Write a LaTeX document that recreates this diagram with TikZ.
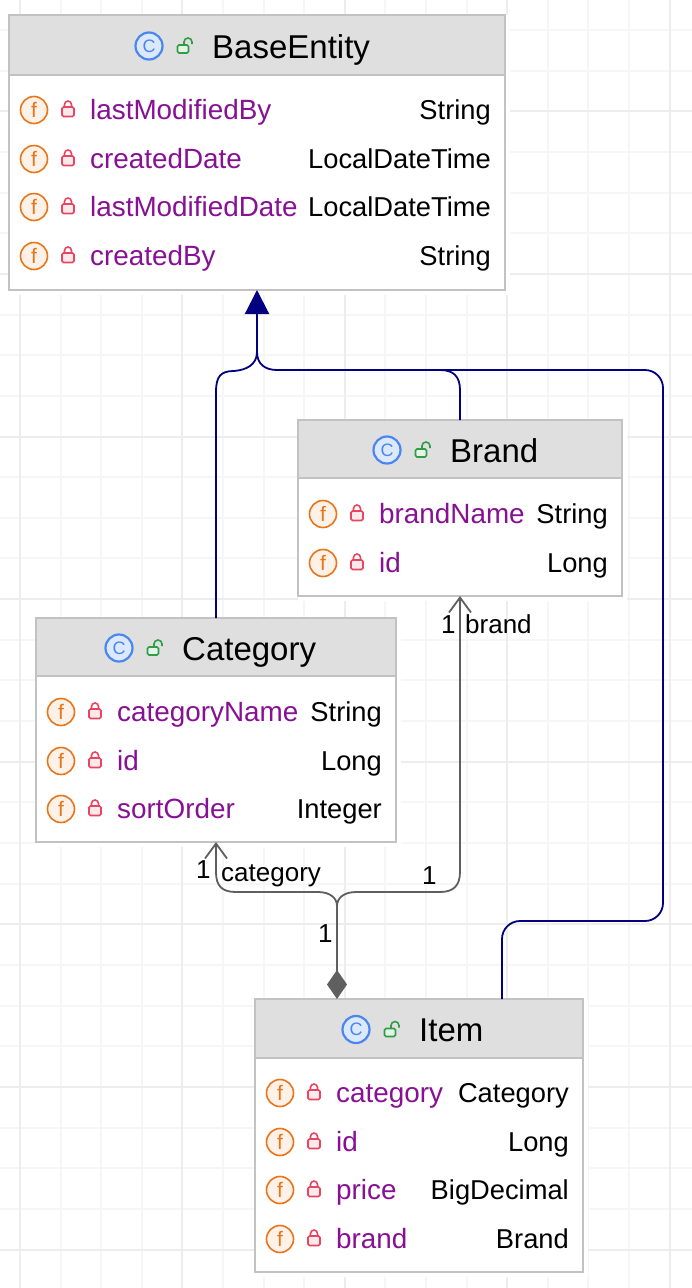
\documentclass[tikz,border=0pt]{standalone}
\usepackage{fontspec}
\setmainfont{Liberation Sans}
\usetikzlibrary{arrows.meta}
\definecolor{gridminor}{HTML}{F6F6F6}
\definecolor{gridmajor}{HTML}{EDEDED}
\definecolor{headgray}{HTML}{DFDFDF}
\definecolor{edgegray}{HTML}{C2C2C2}
\definecolor{fieldpurple}{HTML}{871094}
\definecolor{iconorange}{HTML}{E8751A}
\definecolor{iconpeach}{HTML}{FDF1E8}
\definecolor{lockred}{HTML}{E8455F}
\definecolor{lockgreen}{HTML}{2E9E44}
\definecolor{iconblue}{HTML}{4A86F0}
\definecolor{iconsky}{HTML}{DCE8FC}
\definecolor{linenavy}{HTML}{000080}
\definecolor{linegray}{HTML}{5F5F5F}
\tikzset{
  classbody/.style={draw=edgegray,line width=1.6pt,fill=white,anchor=north west,inner sep=0pt,outer sep=0pt},
  classhead/.style={classbody,fill=headgray},
  classtitle/.style={anchor=base west,inner sep=0pt,font=\fontsize{33}{33}\selectfont},
  classicon/.style={circle,draw=iconblue,fill=iconsky,line width=2.2pt,minimum size=27pt,inner sep=0pt,text=iconblue,font=\fontsize{18}{18}\selectfont},
  fieldicon/.style={circle,draw=iconorange,fill=iconpeach,line width=1.6pt,minimum size=27pt,inner sep=0pt,text=iconorange,font=\fontsize{21}{21}\selectfont},
  fieldname/.style={anchor=base west,inner sep=0pt,text=fieldpurple,font=\fontsize{27.85}{27.85}\selectfont},
  fieldtype/.style={anchor=base east,inner sep=0pt,font=\fontsize{27.3}{27.3}\selectfont},
  edgelabel/.style={anchor=base west,inner sep=0pt,font=\fontsize{26}{26}\selectfont},
  extends/.style={draw=linenavy,line width=1.8pt},
  uses/.style={draw=linegray,line width=1.8pt},
  pics/lockshut/.style={code={
    \draw[lockred,line width=1.6pt,fill=lockred!12,rounded corners=1.5pt] (-6,-3) rectangle (6,6.5);
    \draw[lockred,line width=1.6pt] (-3.5,-3) -- (-3.5,-5.5) arc (180:360:3.5) -- (3.5,-3);
  }},
  pics/lockopen/.style={code={
    \draw[lockgreen,line width=1.6pt,fill=lockgreen!12,rounded corners=1.5pt] (-7.5,-1) rectangle (3.5,7);
    \draw[lockgreen,line width=1.6pt] (-1,-1) -- (-1,-4) arc (180:360:4) -- (7,-2);
  }}
}
% id, left, top, width, height, head height, title, title x, rows
\newcommand{\classbox}[9]{
  \fill[white] (#2,#3) rectangle (#2+#4+5,#3+#5+5);
  \node[classbody,minimum width=#4pt,minimum height=#5pt] (#1) at (#2,#3) {};
  \node[classhead,minimum width=#4pt,minimum height=#6pt] (#1-head) at (#2,#3) {};
  \node[classicon] (#1-c) at (#8-63,#3+#6/2+1) {C};
  \pic at (#8-27,#3+#6/2+1) {lockopen};
  \node[classtitle] (#1-title) at (#8,#3+#6/2+13) {#7};
  \foreach \fname/\ftype/\fy [count=\k] in {#9}{
    \node[fieldicon] (#1-f\k) at (#2+25,\fy) {f};
    \pic at (#2+59,\fy) {lockshut};
    \node[fieldname] (#1-n\k) at (#2+81,\fy+9.5) {\fname};
    \node[fieldtype] (#1-t\k) at (#2+#4-14,\fy+9.5) {\ftype};
  }
}
\begin{document}
\begin{tikzpicture}[x=1pt,y=-1pt]
\useasboundingbox (0,0) rectangle (692,1288);
\fill[white] (0,0) rectangle (692,1288);
% grid
\foreach \i in {1,2,3,5,6,7,9,10,11,13,14,15}{
  \draw[gridminor,line width=2pt] (20+40.6*\i,0) -- (20+40.6*\i,1288);
}
\foreach \i in {0,1,3,4,5,7,8,9,11,12,13,15,16,17,19,20,21,23,24,25,27,28,29,31}{
  \draw[gridminor,line width=2pt] (0,30+40.65*\i) -- (692,30+40.65*\i);
}
\foreach \i in {0,4,8,12,16}{
  \draw[gridmajor,line width=2pt] (20+40.6*\i,0) -- (20+40.6*\i,1288);
}
\foreach \i in {2,6,10,14,18,22,26,30}{
  \draw[gridmajor,line width=2pt] (0,30+40.65*\i) -- (692,30+40.65*\i);
}
% classes
\classbox{BaseEntity}{9}{15}{496}{275}{60}{BaseEntity}{212}{lastModifiedBy/String/110,createdDate/LocalDateTime/159,lastModifiedDate/LocalDateTime/207,createdBy/String/256}
\classbox{Brand}{298}{420}{324}{176}{58}{Brand}{450}{brandName/String/514,id/Long/563}
\classbox{Category}{36}{618}{360}{224}{58}{Category}{182}{categoryName/String/712,id/Long/761,sortOrder/Integer/809}
\classbox{Item}{255}{999}{328}{273}{59}{Item}{419}{category/Category/1093,id/Long/1142,price/BigDecimal/1190,brand/Brand/1239}
% connector ends
\coordinate (busTop) at (257,352);
\coordinate (itemExtends) at (502,999);
\coordinate (itemUses) at (337,999);
\coordinate (forkTop) at (337,906);
% inheritance
\draw[extends] (Category.north) -- (216,392) .. controls (216,376) and (221,371) .. (234,371) .. controls (246,370) and (257,365) .. (busTop);
\draw[extends] (Brand.north) -- (460,390) .. controls (460,376) and (453,370) .. (440,370) -- (277,370) .. controls (265,370) and (257,364) .. (busTop);
\draw[extends,rounded corners=18pt] (itemExtends) -- (502,921) -- (663,921) -- (663,370) -- (420,370);
\draw[extends,line width=2.2pt,-{Triangle[length=24pt,width=24pt]}] (busTop) -- (BaseEntity.south);
% associations
\draw[uses,-{Straight Barb[length=15pt,width=22pt]}] (forkTop) .. controls (337,898) and (330,892) .. (318,892) -- (236,892) .. controls (222,892) and (216,886) .. (216,872) -- (Category.south);
\draw[uses,-{Straight Barb[length=15pt,width=22pt]}] (forkTop) .. controls (337,898) and (344,892) .. (356,892) -- (440,892) .. controls (453,892) and (460,886) .. (460,872) -- (Brand.south);
\draw[uses,line width=2.2pt,-{Diamond[length=29pt,width=20pt]}] (forkTop) -- (itemUses);
% labels
\node[edgelabel] (brandOne) at (441,633) {1};
\node[edgelabel] (brandRole) at (465,633) {brand};
\node[edgelabel] (catOne) at (196,878) {1};
\node[edgelabel] (catRole) at (221,881) {category};
\node[edgelabel] (forkOne) at (422,884) {1};
\node[edgelabel] (itemOne) at (318,942) {1};
\end{tikzpicture}
\end{document}
